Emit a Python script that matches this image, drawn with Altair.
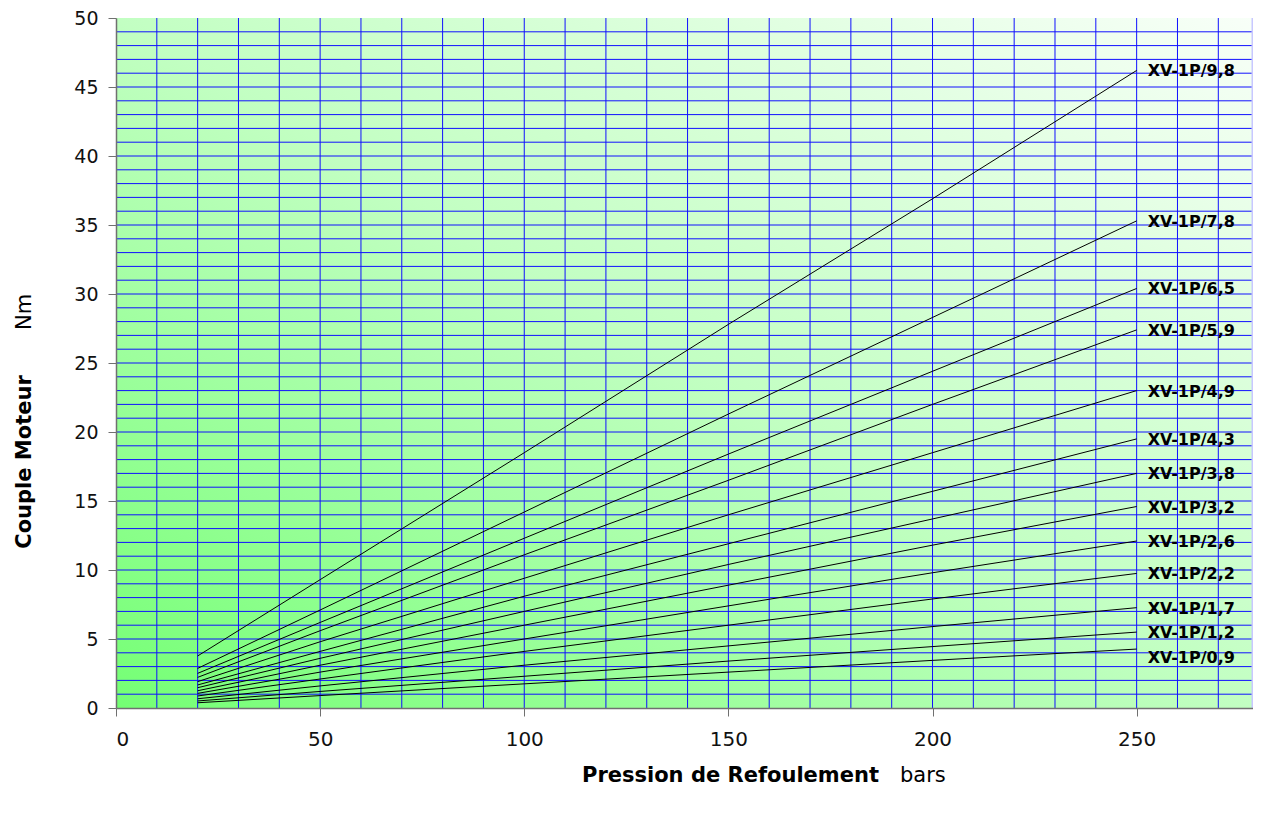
import altair as alt
import pandas as pd

# ---------------- data ----------------
pressure = [20, 50, 100, 150, 200, 250]

models = ["XV-1P/9,8", "XV-1P/7,8", "XV-1P/6,5", "XV-1P/5,9", "XV-1P/4,9",
          "XV-1P/4,3", "XV-1P/3,8", "XV-1P/3,2", "XV-1P/2,6", "XV-1P/2,2",
          "XV-1P/1,7", "XV-1P/1,2", "XV-1P/0,9"]

torque_98 = [3.77, 9.3, 18.5, 27.8, 36.9, 46.2]
torque_78 = [2.87, 7.1, 14.2, 21.3, 28.3, 35.3]
torque_65 = [2.51, 6.2, 12.3, 18.4, 24.4, 30.4]
torque_59 = [2.22, 5.6, 11.1, 16.5, 22.0, 27.4]
torque_49 = [1.91, 4.8, 9.4, 14.0, 18.5, 23.0]
torque_43 = [1.67, 4.1, 8.1, 11.9, 15.7, 19.5]
torque_38 = [1.47, 3.6, 7.0, 10.4, 13.7, 17.0]
torque_32 = [1.25, 3.1, 6.0, 8.9, 11.8, 14.6]
torque_26 = [1.06, 2.6, 5.0, 7.4, 9.8, 12.1]
torque_22 = [0.87, 2.1, 4.1, 6.0, 7.9, 9.75]
torque_17 = [0.67, 1.6, 3.1, 4.5, 5.9, 7.27]
torque_12 = [0.51, 1.2, 2.3, 3.4, 4.45, 5.5]
torque_09 = [0.38, 0.9, 1.75, 2.6, 3.45, 4.27]

torques = [torque_98, torque_78, torque_65, torque_59, torque_49, torque_43,
           torque_38, torque_32, torque_26, torque_22, torque_17, torque_12,
           torque_09]

x_ticks = [0, 50, 100, 150, 200, 250]
y_ticks = [0, 5, 10, 15, 20, 25, 30, 35, 40, 45, 50]
x_grid = [10, 20, 30, 40, 50, 60, 70, 80, 90, 100, 110, 120, 130, 140, 150,
          160, 170, 180, 190, 200, 210, 220, 230, 240, 250, 260, 270]
y_grid = list(range(1, 50))

# ---------------- tables ----------------
rows = []
for m, t in zip(models, torques):
    for p, v in zip(pressure, t):
        rows.append({"model": m, "pressure": p, "torque": v})
df = pd.DataFrame(rows)

ends = pd.DataFrame({"model": models,
                     "pressure": [pressure[-1]] * len(models),
                     "torque": [t[-1] for t in torques]})

W, H = 1137, 690
FONT = "DejaVu Sans"

xscale = alt.Scale(domain=[0, 278.5], nice=False, zero=False)
yscale = alt.Scale(domain=[0, 50], nice=False)

xaxis = alt.Axis(values=x_ticks, grid=False, title=None, labelFont=FONT,
                 labelFontSize=20, labelColor="#111111", tickSize=8,
                 labelPadding=13, domainColor="#707070", tickColor="#707070",
                 domainWidth=1.5, zindex=1)
yaxis = alt.Axis(values=y_ticks, grid=False, title=None, labelFont=FONT,
                 labelFontSize=19, labelColor="#111111", tickSize=8,
                 labelPadding=10, domainColor="#707070", tickColor="#707070",
                 domainWidth=1.5, zindex=1)

gradient = alt.LinearGradient(
    gradient="linear",
    stops=[alt.GradientStop(color="#74ff74", offset=0),
           alt.GradientStop(color="#c2ffc2", offset=0.5),
           alt.GradientStop(color="#f8fff8", offset=1)],
    x1=0, y1=1, x2=1, y2=0)

background = alt.Chart(pd.DataFrame({"a": [0]})).mark_rect(
    fill=gradient, strokeWidth=0).encode(
    x=alt.value(0), x2=alt.value(W), y=alt.value(0), y2=alt.value(H))

vgrid = alt.Chart(pd.DataFrame({"v": x_grid})).mark_rule(
    color="#1010ff", strokeWidth=1).encode(
    x=alt.X("v:Q", scale=xscale, axis=xaxis))

hgrid = alt.Chart(pd.DataFrame({"v": y_grid})).mark_rule(
    color="#1010ff", strokeWidth=1).encode(
    y=alt.Y("v:Q", scale=yscale, axis=yaxis))

border = alt.Chart(pd.DataFrame({"a": [0]})).mark_rule(
    color="#c8c8ff", strokeWidth=3).encode(
    x=alt.value(W), y=alt.value(0), y2=alt.value(H))

lines = alt.Chart(df).mark_line(color="black", strokeWidth=1).encode(
    x=alt.X("pressure:Q", scale=xscale, axis=xaxis),
    y=alt.Y("torque:Q", scale=yscale, axis=yaxis),
    detail="model:N")

labels_main = alt.Chart(ends[ends["model"] != "XV-1P/0,9"]).mark_text(
    align="left", baseline="middle", dx=11, dy=1, font=FONT, fontSize=16,
    fontWeight="bold", color="black").encode(
    x=alt.X("pressure:Q", scale=xscale),
    y=alt.Y("torque:Q", scale=yscale),
    text="model:N")

labels_low = alt.Chart(ends[ends["model"] == "XV-1P/0,9"]).mark_text(
    align="left", baseline="middle", dx=11, dy=9, font=FONT, fontSize=16,
    fontWeight="bold", color="black").encode(
    x=alt.X("pressure:Q", scale=xscale),
    y=alt.Y("torque:Q", scale=yscale),
    text="model:N")

title_df = pd.DataFrame({"a": [0]})
xt_bold = alt.Chart(title_df).mark_text(
    text="Pression de Refoulement", font=FONT, fontSize=21, fontWeight="bold",
    align="left", baseline="middle", color="black").encode(
    x=alt.value(466), y=alt.value(758))
xt_unit = alt.Chart(title_df).mark_text(
    text="bars", font=FONT, fontSize=21, align="left", baseline="middle",
    color="black").encode(x=alt.value(784), y=alt.value(758))
yt_bold = alt.Chart(title_df).mark_text(
    text="Couple Moteur", font=FONT, fontSize=21, fontWeight="bold", angle=270,
    align="center", baseline="middle", color="black").encode(
    x=alt.value(-91), y=alt.value(444))
yt_unit = alt.Chart(title_df).mark_text(
    text="Nm", font=FONT, fontSize=21, angle=270, align="center",
    baseline="middle", color="black").encode(
    x=alt.value(-91), y=alt.value(294))

chart = alt.layer(
    background, vgrid, hgrid, lines, border, labels_main, labels_low,
    xt_bold, xt_unit, yt_bold, yt_unit
).properties(
    width=W, height=H,
    autosize=alt.AutoSizeParams(type="none"),
    padding={"left": 108, "top": 10, "right": 0, "bottom": 80},
    background="white"
).configure_view(stroke=None)

chart.save("out.html", embed_options={"renderer": "svg", "actions": False})
